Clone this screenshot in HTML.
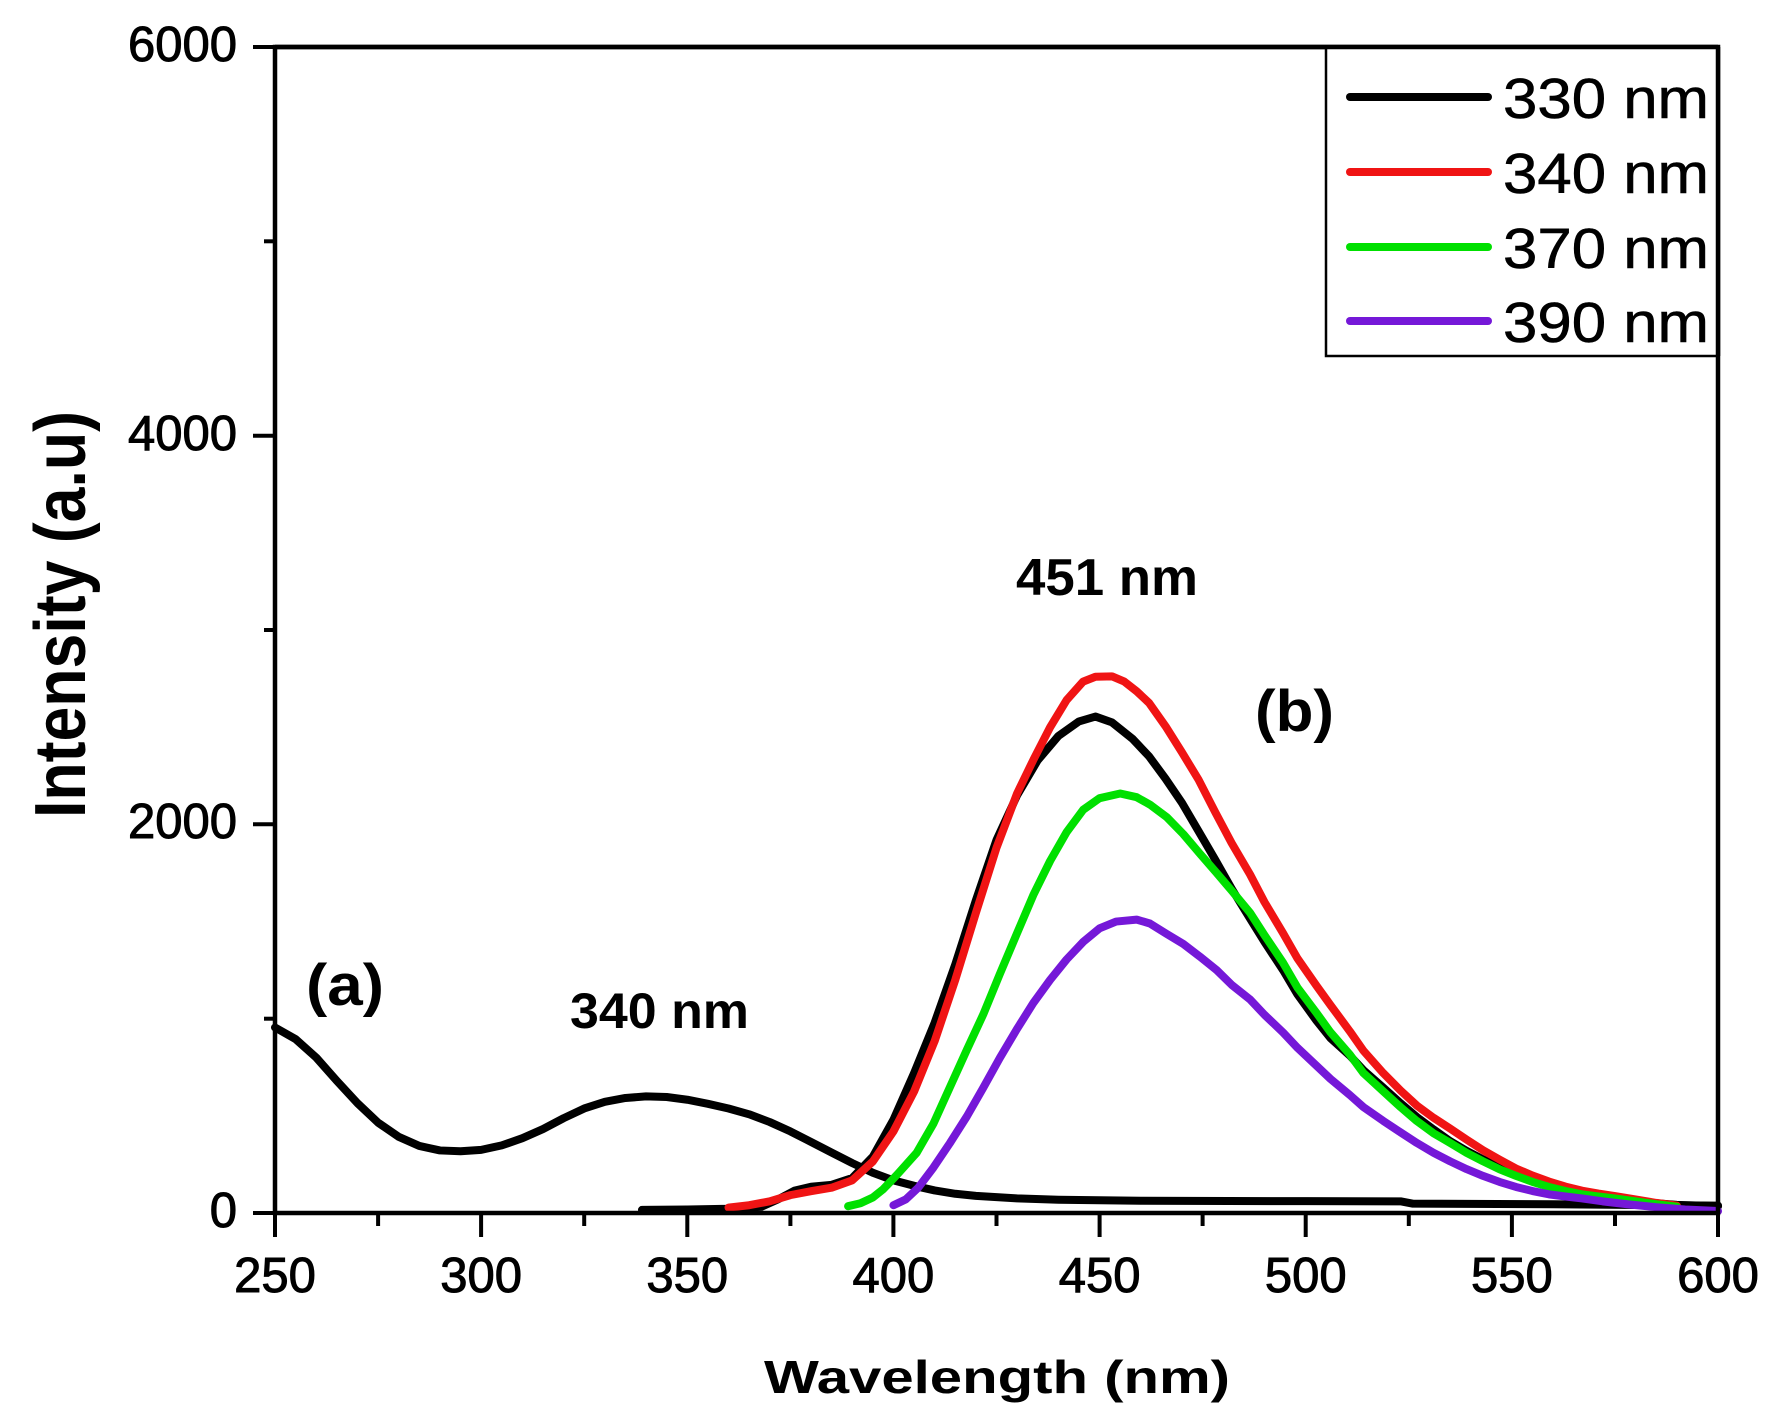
<!DOCTYPE html>
<html>
<head>
<meta charset="utf-8">
<style>
  html, body { margin: 0; padding: 0; background: #fff; }
  svg { display: block; }
  text { font-family: "Liberation Sans", Arial, sans-serif; fill: #000; }
</style>
</head>
<body>
<svg width="1784" height="1427" viewBox="0 0 1784 1427" xmlns="http://www.w3.org/2000/svg">
  <rect x="0" y="0" width="1784" height="1427" fill="#fff"/>

  <!-- data curves -->
  <g transform="translate(275,1213) scale(4.123,-0.1943) translate(-250,0)" fill="none" stroke-linejoin="round" stroke-linecap="round">
    <!-- (a) excitation, black -->
    <polyline vector-effect="non-scaling-stroke" stroke="#000" stroke-width="8"
      points="250,955 255,895 260,800 265,680 270,565 275,465 280,392 285,345 290,322 295,318 300,325 305,348 310,385 315,432 320,488 325,538 330,572 335,592 340,600 345,597 350,583 355,562 360,538 365,508 370,468 375,420 380,366 385,311 390,257 395,207 400,168 405,140 410,116 415,99 420,88 430,75 440,68 460,63 500,61 523,60 526,48 560,45 600,38"/>
    <!-- 330 nm emission, black -->
    <polyline vector-effect="non-scaling-stroke" stroke="#000" stroke-width="8"
      points="339,16 350,18 360,22 368,32 372,70 376,115 380,135 385,145 390,180 395,290 400,480 405,720 410,980 415,1280 420,1610 425,1920 430,2150 435,2330 440,2455 445,2530 449,2555 453,2525 458,2440 462,2350 466,2235 470,2110 474,1965 478,1820 482,1670 486.5,1515 490,1395 494.5,1250 498,1125 502.6,990 506,900 510.7,810 514,735 518.8,645 523,565 527,493 531,430 535,370 539,320 543,276 547,236 551,200 555,170 559,143 563,122 567,105 571,90 575,77 580,62 585,50 590,42 600,35"/>
    <!-- 340 nm, red -->
    <polyline vector-effect="non-scaling-stroke" stroke="#f01414" stroke-width="8"
      points="360,28 365,40 370,60 375,92 380,112 385,130 390,168 395,265 400,420 405,625 410,885 415,1200 420,1545 425,1880 430,2160 434,2335 438,2500 442,2640 446,2735 449,2760 453,2762 456,2735 459,2685 462,2625 466,2505 470,2370 474,2230 478,2065 482,1905 486.5,1742 490,1600 494.5,1440 498,1310 502.6,1170 506,1070 510.7,935 514,835 518.8,720 523,630 527,552 531,490 535,435 539,378 543,323 547,275 551,229 555,193 559,162 563,136 567,115 571,100 575,87 580,70 585,52 590,38"/>
    <!-- 370 nm, green -->
    <polyline vector-effect="non-scaling-stroke" stroke="#00e000" stroke-width="8"
      points="389,35 392,50 395,80 397.5,122 401,200 405.6,309 409.7,460 413.7,648 417.8,840 421.8,1023 425.8,1230 429.9,1436 434,1640 438,1812 442,1960 446,2075 450,2135 455,2159 459,2140 462.2,2102 466.3,2037 470.3,1950 474.3,1850 478.4,1750 482,1660 486.5,1545 490,1430 494.5,1288 498,1160 502.6,1030 506,930 510.7,815 514,720 518.8,626 523,545 526.9,474 531,410 535,361 539,310 543,266 547,225 551,191 555,160 559,134 563,113 567,96 571,85 575,75 580,60 585,45 590,32"/>
    <!-- 390 nm, purple -->
    <polyline vector-effect="non-scaling-stroke" stroke="#7518d8" stroke-width="8"
      points="400,40 403,70 406,130 409.7,234 413.7,360 417.8,497 421.8,645 425.8,798 429.9,945 433.9,1080 438,1200 442,1305 446,1395 450,1465 454,1500 459,1510 462.2,1490 466.3,1436 470.3,1385 474.3,1320 478.4,1250 482,1175 486.5,1099 490,1020 494.5,929 498,850 502.6,758 506,690 510.7,607 514,545 518.8,474 523,415 526.9,361 531,310 535,266 539,226 543,191 547,160 551,134 555,113 559,96 563,85 567,75 572,60 578,45 585,30 592,18 600,10"/>
  </g>

  <!-- axes frame -->
  <g stroke="#000" stroke-width="4.5" fill="none" stroke-linecap="square">
    <rect x="275" y="47" width="1443" height="1166"/>
  </g>

  <!-- y ticks -->
  <g stroke="#000" stroke-width="4">
    <line x1="253" y1="1213" x2="275" y2="1213"/>
    <line x1="253" y1="824.3" x2="275" y2="824.3"/>
    <line x1="253" y1="435.7" x2="275" y2="435.7"/>
    <line x1="253" y1="47" x2="275" y2="47"/>
    <line x1="264" y1="1018.7" x2="275" y2="1018.7"/>
    <line x1="264" y1="630" x2="275" y2="630"/>
    <line x1="264" y1="241.3" x2="275" y2="241.3"/>
  </g>

  <!-- x ticks -->
  <g stroke="#000" stroke-width="4">
    <line x1="275" y1="1213" x2="275" y2="1237"/>
    <line x1="481.1" y1="1213" x2="481.1" y2="1237"/>
    <line x1="687.3" y1="1213" x2="687.3" y2="1237"/>
    <line x1="893.4" y1="1213" x2="893.4" y2="1237"/>
    <line x1="1099.6" y1="1213" x2="1099.6" y2="1237"/>
    <line x1="1305.7" y1="1213" x2="1305.7" y2="1237"/>
    <line x1="1511.9" y1="1213" x2="1511.9" y2="1237"/>
    <line x1="1718" y1="1213" x2="1718" y2="1237"/>
    <line x1="378.1" y1="1213" x2="378.1" y2="1226"/>
    <line x1="584.2" y1="1213" x2="584.2" y2="1226"/>
    <line x1="790.4" y1="1213" x2="790.4" y2="1226"/>
    <line x1="996.5" y1="1213" x2="996.5" y2="1226"/>
    <line x1="1202.6" y1="1213" x2="1202.6" y2="1226"/>
    <line x1="1408.8" y1="1213" x2="1408.8" y2="1226"/>
    <line x1="1615" y1="1213" x2="1615" y2="1226"/>
  </g>

  <!-- y tick labels -->
  <g font-size="49" text-anchor="end" stroke="#000" stroke-width="1">
    <text x="237" y="1227">0</text>
    <text x="237" y="838">2000</text>
    <text x="237" y="450">4000</text>
    <text x="237" y="61">6000</text>
  </g>

  <!-- x tick labels -->
  <g font-size="49" text-anchor="middle" stroke="#000" stroke-width="1">
    <text x="275" y="1292">250</text>
    <text x="481.1" y="1292">300</text>
    <text x="687.3" y="1292">350</text>
    <text x="893.4" y="1292">400</text>
    <text x="1099.6" y="1292">450</text>
    <text x="1305.7" y="1292">500</text>
    <text x="1511.9" y="1292">550</text>
    <text x="1718" y="1292">600</text>
  </g>

  <!-- axis titles -->
  <text x="764" y="1393" font-size="46" font-weight="bold" textLength="466" lengthAdjust="spacingAndGlyphs">Wavelength (nm)</text>
  <text transform="translate(85,818) rotate(-90)" font-size="72" font-weight="bold" textLength="407" lengthAdjust="spacingAndGlyphs">Intensity (a.u)</text>

  <!-- annotations -->
  <text x="1016" y="595" font-size="52" font-weight="bold" textLength="182" lengthAdjust="spacingAndGlyphs">451 nm</text>
  <text x="1255" y="731" font-size="58" font-weight="bold" textLength="79" lengthAdjust="spacingAndGlyphs">(b)</text>
  <text x="306" y="1005" font-size="58" font-weight="bold" textLength="78" lengthAdjust="spacingAndGlyphs">(a)</text>
  <text x="570" y="1028" font-size="50" font-weight="bold" textLength="179" lengthAdjust="spacingAndGlyphs">340 nm</text>

  <!-- legend -->
  <rect x="1326" y="47" width="392" height="309" fill="#fff" stroke="#000" stroke-width="2.5"/>
  <line x1="275" y1="47" x2="1718" y2="47" stroke="#000" stroke-width="4.5"/>
  <line x1="1718" y1="47" x2="1718" y2="356" stroke="#000" stroke-width="4.5"/>
  <g stroke-width="8" stroke-linecap="round">
    <line x1="1350" y1="97" x2="1488" y2="97" stroke="#000"/>
    <line x1="1350" y1="172" x2="1488" y2="172" stroke="#f01414"/>
    <line x1="1350" y1="247" x2="1488" y2="247" stroke="#00e000"/>
    <line x1="1350" y1="321" x2="1488" y2="321" stroke="#7518d8"/>
  </g>
  <g font-size="57" stroke="#000" stroke-width="0.6">
    <text x="1503" y="118" textLength="206" lengthAdjust="spacingAndGlyphs">330 nm</text>
    <text x="1503" y="193" textLength="206" lengthAdjust="spacingAndGlyphs">340 nm</text>
    <text x="1503" y="268" textLength="206" lengthAdjust="spacingAndGlyphs">370 nm</text>
    <text x="1503" y="342" textLength="206" lengthAdjust="spacingAndGlyphs">390 nm</text>
  </g>
</svg>
</body>
</html>
